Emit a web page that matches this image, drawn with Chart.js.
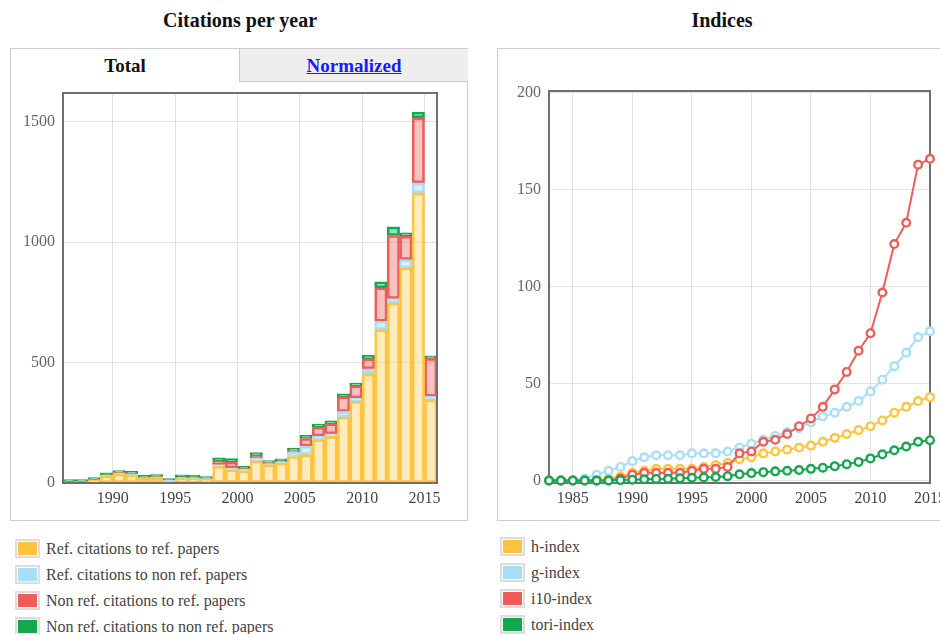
<!DOCTYPE html>
<html><head><meta charset="utf-8">
<script src="https://cdn.jsdelivr.net/npm/chart.js@4/dist/chart.umd.min.js"></script>
<style>
html,body{margin:0;padding:0;width:940px;height:634px;overflow:hidden;background:#fff;font-family:"Liberation Serif","Times New Roman",serif;}
.title{position:absolute;top:8px;line-height:24px;font-weight:bold;font-size:20px;color:#111;text-align:center;}
.box{position:absolute;border:1px solid #ccc;box-sizing:border-box;}
.tab{position:absolute;top:0;height:33px;line-height:33px;text-align:center;font-weight:bold;font-size:19px;box-sizing:border-box;}
.legend{position:absolute;font-size:16px;color:#444;}
.row{position:absolute;left:0;height:20px;line-height:20px;white-space:nowrap;}
.sw{position:absolute;left:0;top:0;width:19px;height:13px;border:2px solid #ddd;padding:1px;background-clip:content-box;}
.lt{position:absolute;top:0;}
canvas{position:absolute;}
</style>
</head><body>
<div class="title" style="left:10px;width:460px;">Citations per year</div>
<div class="title" style="left:497px;width:450px;">Indices</div>

<div class="box" style="left:10px;top:48px;width:458px;height:473px;">
  <div class="tab" style="left:0;width:228px;color:#111;">Total</div>
  <div class="tab" style="left:228px;width:229px;background:#eee;border-left:1px solid #ccc;border-bottom:1px solid #ccc;color:#1a1aff;text-decoration:underline;">Normalized</div>
</div>
<div class="box" style="left:497px;top:48px;width:460px;height:473px;"></div>

<canvas id="bars" width="458" height="438" style="left:10px;top:82px;"></canvas>
<canvas id="lines" width="460" height="472" style="left:497px;top:48px;"></canvas>

<div class="legend" id="legL" style="left:15px;top:539px;"></div>
<div class="legend" id="legR" style="left:500px;top:537px;"></div>

<script>
// ---- Citations per year (stacked bars) ----
const barYears = [1986,1987,1988,1989,1990,1991,1992,1993,1994,1995,1996,1997,1998,1999,2000,2001,2002,2003,2004,2005,2006,2007,2008,2009,2010,2011,2012,2013,2014,2015];
const refToRef       = [4,4,12,30,38,34,20,22,8,18,18,16,70,55,51,92,76,83,110,118,180,194,274,339,453,637,748,893,1205,346];
const refToNonRef    = [2,2,2,3,3,3,2,2,3,3,3,2,6,7,5,10,4,4,17,35,15,10,23,14,21,35,18,35,42,14];
const nonRefToRef    = [0,0,0,0,3,3,2,3,2,5,4,2,16,26,5,12,5,5,8,32,37,42,62,51,42,139,262,97,270,158];
const nonRefToNonRef = [8,8,8,9,8,8,8,8,5,8,8,7,13,13,9,12,8,8,10,13,12,12,11,11,14,25,36,14,24,10];
const barXTicks = [1990,1995,2000,2005,2010,2015];
const barYTicks = [0,500,1000,1500];

// ---- Indices (lines) ----
const indexYears = [1983,1984,1985,1986,1987,1988,1989,1990,1991,1992,1993,1994,1995,1996,1997,1998,1999,2000,2001,2002,2003,2004,2005,2006,2007,2008,2009,2010,2011,2012,2013,2014,2015];
const hIndex   = [0,0,0,0,0,1,2,4,5,6,6,6,6,7,8,9,11,12,14,15,16,17,18,20,22,24,26,28,31,35,38,41,43];
const gIndex   = [0,0,0,1,3,5,7,10,12,13,13,13,14,14,14,15,17,19,21,23,25,27,30,33,35,38,41,46,52,59,66,74,77];
const i10Index = [0,0,0,0,0,0,1,3,4,4,4,4,5,6,6,7,14,15,20,21,24,28,32,38,47,56,67,76,97,122,133,163,166];
const toriIndex= [0,0,0,0,0,0,0.2,0.4,0.6,0.8,0.9,1.1,1.4,1.6,1.8,2.2,3.2,3.8,4.3,4.7,5.0,5.4,6.0,6.6,7.4,8.4,9.6,11.4,13.5,15.6,17.5,20.0,20.8];
const lineXTicks = [1985,1990,1995,2000,2005,2010,2015];
const lineYTicks = [0,50,100,150,200];

const barLegend = ["Ref. citations to ref. papers","Ref. citations to non ref. papers","Non ref. citations to ref. papers","Non ref. citations to non ref. papers"];
const lineLegend = ["h-index","g-index","i10-index","tori-index"];

const C = {
  yellow:"#FFC43F", blue:"#A9DEF8", red:"#F05D58", green:"#14A84E",
  yellowF:"rgba(255,200,70,0.35)", blueF:"rgba(169,222,248,0.45)", redF:"rgba(240,93,88,0.38)", greenF:"rgba(20,168,78,0.4)"
};
const swatch = [C.yellow, C.blue, C.red, C.green];

function buildLegend(id, names, step, textLeft){
  const el = document.getElementById(id);
  names.forEach((n,i)=>{
    const r = document.createElement('div');
    r.className='row'; r.style.top=(i*step)+'px';
    r.innerHTML = '<div class="sw" style="background-color:'+swatch[i]+'"></div><div class="lt" style="left:'+textLeft+'px">'+n+'</div>';
    el.appendChild(r);
  });
}
buildLegend('legL', barLegend, 26, 31);
buildLegend('legR', lineLegend, 26, 31);

Chart.defaults.font.family = '"Liberation Serif","Times New Roman",serif';
Chart.defaults.font.size = 16;
Chart.defaults.color = '#555';

const frame = (after) => ({
  id:'frame',
  [after ? 'afterDatasetsDraw' : 'beforeDatasetsDraw'](chart){
    const a = chart.chartArea, ctx = chart.ctx;
    ctx.save(); ctx.strokeStyle = '#707070'; ctx.lineWidth = 2;
    ctx.strokeRect(a.left, a.top, a.right - a.left, a.bottom - a.top);
    ctx.restore();
  }
});
const noPadX = s => { s.paddingLeft = 0; s.paddingRight = 0; };
const noPadY = s => { s.paddingTop = 0; s.paddingBottom = 0; };

const barCenters = barYears.map(y => y + 0.5);
function bds(label, data, fill, stroke){
  return {label, data, backgroundColor:fill, borderColor:stroke, borderWidth:2, borderSkipped:false,
    barPercentage:1, categoryPercentage:1};
}
new Chart(document.getElementById('bars'), {
  type:'bar',
  data:{ labels: barCenters, datasets:[
    bds(barLegend[0], refToRef, C.yellowF, C.yellow),
    bds(barLegend[1], refToNonRef, C.blueF, C.blue),
    bds(barLegend[2], nonRefToRef, C.redF, C.red),
    bds(barLegend[3], nonRefToNonRef, C.greenF, C.green)
  ]},
  options:{
    responsive:false, animation:false,
    layout:{padding:{left:0,right:31,top:11,bottom:0}},
    plugins:{legend:{display:false}, tooltip:{enabled:false}},
    scales:{
      x:{type:'linear', stacked:true, offset:false, min:1986, max:2016,
        grid:{offset:false, color:'#e2e2e2', drawTicks:false}, border:{display:false},
        ticks:{padding:6, color:'#444', callback:v=>String(v)},
        afterBuildTicks:s=>{ s.ticks = barXTicks.map(v=>({value:v})); },
        afterFit:s=>{ s.height = 37; noPadX(s); }},
      y:{type:'linear', stacked:true, min:0, max:1620,
        grid:{color:'#e2e2e2', drawTicks:false}, border:{display:false},
        ticks:{padding:8, color:'#666', callback:v=>String(v)},
        afterBuildTicks:s=>{ s.ticks = barYTicks.map(v=>({value:v})); },
        afterFit:s=>{ s.width = 53; noPadY(s); }}
    }
  },
  plugins:[frame(true)]
});

function lds(label, data, color, order){
  return {label, data, borderColor:color, backgroundColor:color, borderWidth:2,
    pointRadius:3.8, pointBorderWidth:2.4, pointBackgroundColor:'#fff', pointBorderColor:color,
    tension:0, fill:false, clip:false, order};
}
new Chart(document.getElementById('lines'), {
  type:'line',
  data:{ labels:indexYears, datasets:[
    lds(lineLegend[0], hIndex, C.yellow, 3),
    lds(lineLegend[1], gIndex, C.blue, 2),
    lds(lineLegend[2], i10Index, C.red, 1),
    lds(lineLegend[3], toriIndex, C.green, 0)
  ]},
  options:{
    responsive:false, animation:false,
    layout:{padding:{left:0,right:27,top:43,bottom:0}},
    plugins:{legend:{display:false}, tooltip:{enabled:false}},
    scales:{
      x:{type:'linear', min:1983, max:2015,
        grid:{color:'#e2e2e2', drawTicks:false}, border:{display:false},
        ticks:{padding:6, color:'#444', callback:v=>String(v)},
        afterBuildTicks:s=>{ s.ticks = lineXTicks.map(v=>({value:v})); },
        afterFit:s=>{ s.height = 37; noPadX(s); }},
      y:{type:'linear', min:-1.3, max:201,
        grid:{color:'#e2e2e2', drawTicks:false}, border:{display:false},
        ticks:{padding:8, color:'#666', callback:v=>String(v)},
        afterBuildTicks:s=>{ s.ticks = lineYTicks.map(v=>({value:v})); },
        afterFit:s=>{ s.width = 52; noPadY(s); }}
    }
  },
  plugins:[frame(false)]
});
</script>
</body></html>
